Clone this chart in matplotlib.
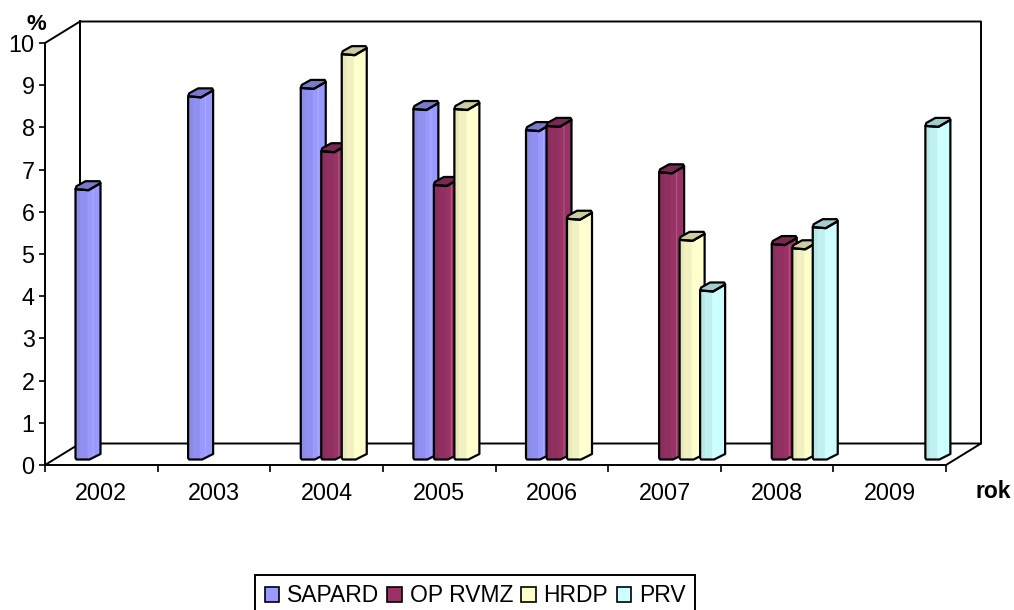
import numpy as np
import matplotlib
matplotlib.use('Agg')
import matplotlib.pyplot as plt
from matplotlib.patches import Polygon, Patch
from matplotlib.colors import to_rgb

plt.rcParams['font.family'] = ['Liberation Sans', 'DejaVu Sans']

years = ['2002', '2003', '2004', '2005', '2006', '2007', '2008', '2009']
sapard = [6.5, 8.7, 8.9, 8.4, 7.9, None, None, None]
op_rvmz = [None, None, 7.4, 6.6, 8.0, 6.9, 5.2, None]
hrdp = [None, None, 9.7, 8.4, 5.8, 5.3, 5.1, None]
prv = [None, None, None, None, None, 4.1, 5.6, 8.0]

names = ['SAPARD', 'OP RVMZ', 'HRDP', 'PRV']
colors = ['#9999FF', '#993366', '#FFFFCC', '#CCFFFF']
all_series = [sapard, op_rvmz, hrdp, prv]

fig = plt.figure(figsize=(10.14, 6.10), dpi=100)
ax = fig.add_axes([45 / 1014, (610 - 465) / 610, 901 / 1014, 422 / 610])
ax.set_xlim(0, 8)
ax.set_ylim(0, 10)

# one pixel in data units, depth of the fake 3d box
px = 8 / 901
py = 10 / 422
dx = 35 * px
dy = 21.5 * py

wall = dict(color='black', lw=1.4, clip_on=False, zorder=1, solid_capstyle='projecting')
ax.plot([0, dx, 8 + dx, 8 + dx], [10, 10 + dy, 10 + dy, dy], **wall)
ax.plot([dx, dx], [dy, 10 + dy], **wall)
ax.plot([0, dx, 8 + dx, 8], [0, dy, dy, 0], **wall)


def shade(c, f):
    return tuple(v * f for v in to_rgb(c))


def tint(c, f):
    return tuple(v + (1 - v) * f for v in to_rgb(c))


def draw_bar(i, j, v, color):
    x0 = i + 30.5 * px + j * 20.5 * px
    top = v + 1.5 * py
    bot = 5.5 * py
    X = lambda p: x0 + p * px
    Y = lambda p: top - p * py      # pixels below the front-left corner of the top
    Z = lambda p: bot - p * py      # pixels below the base line
    z = 5 + j * 0.1 + i * 0.001
    body = [(X(0), Y(0)), (X(13), Y(1)), (X(25), Y(-6)), (X(25), Z(-5.5)),
            (X(14), Z(0)), (X(1), Z(0)), (X(0), Z(-1.5))]
    ax.add_patch(Polygon(body, closed=True, fc=color, ec='none', zorder=z, clip_on=False))
    # darker bands on the left of the column, thin light stripe on the right
    for a, b, f in [(0, 5, 0.91), (5, 12, 0.94)]:
        band = [(X(a), Y(0)), (X(b), Y(1)), (X(b), Z(0)), (X(a), Z(0))]
        ax.add_patch(Polygon(band, closed=True, fc=shade(color, f), ec='none', zorder=z, clip_on=False))
    stripe = [(X(17), Y(-2)), (X(18), Y(-3)), (X(18), Z(-3)), (X(17), Z(-2))]
    ax.add_patch(Polygon(stripe, closed=True, fc=tint(color, 0.2), ec='none', zorder=z, clip_on=False))
    cap = [(X(0), Y(0)), (X(13), Y(1)), (X(25), Y(-6)), (X(24), Y(-8)), (X(10), Y(-8)), (X(1), Y(-3))]
    ax.add_patch(Polygon(cap, closed=True, fc=shade(color, 0.8), ec='none', zorder=z, clip_on=False))
    ax.add_patch(Polygon(body, closed=True, fc='none', ec='black',
                         lw=1.6, zorder=z, clip_on=False, joinstyle='round'))
    ax.add_patch(Polygon(cap, closed=True, fc='none', ec='black', lw=1.6, zorder=z,
                         clip_on=False, joinstyle='round'))


for j, series in enumerate(all_series):
    for i, v in enumerate(series):
        if v is not None:
            draw_bar(i, j, v, colors[j])

ax.spines['top'].set_visible(False)
ax.spines['right'].set_visible(False)
ax.spines['left'].set_linewidth(1.4)
ax.spines['bottom'].set_linewidth(1.4)
ax.patch.set_visible(False)

ax.set_yticks(range(0, 11))
ax.tick_params(axis='y', labelsize=16.8, length=4, width=1.2, pad=3.5)
ax.set_xticks(range(0, 9))
ax.set_xticklabels([])
ax.tick_params(axis='x', which='major', length=5, width=1.2)
ax.set_xticks(np.arange(8) + 0.5, minor=True)
ax.set_xticklabels(years, minor=True, fontsize=16.8)
ax.tick_params(axis='x', which='minor', length=0, pad=12)

fig.text(36 / 1014, 1 - 25 / 610, '%', fontsize=16, fontweight='bold', ha='center', va='center')
fig.text(993.5 / 1014, 1 - 491 / 610, 'rok', fontsize=16.5, fontweight='bold', ha='center', va='center')

# box runs past the bottom edge of the picture, as in the original
handles = [Patch(fc=c, ec='black', lw=1.2) for c in colors]
leg = fig.legend(handles, names, ncol=4, loc='center', bbox_to_anchor=(475 / 1014, 1 - 596 / 610),
                 fontsize=16.5, frameon=True, fancybox=False, edgecolor='black', framealpha=1,
                 handlelength=0.62, handleheight=0.62, handletextpad=0.35, columnspacing=0.36,
                 borderpad=0.42, borderaxespad=0)
leg.get_frame().set_linewidth(1.4)

fig.savefig('out.png', dpi=100)
